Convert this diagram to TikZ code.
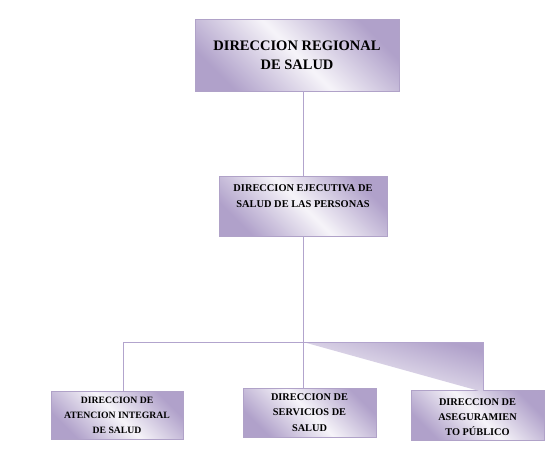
\documentclass[tikz,border=0pt]{standalone}
\usepackage{fontspec}
\setmainfont{Liberation Serif}
\begin{document}
\begin{tikzpicture}[x=1pt,y=-1pt,
  linec/.style={draw=lineclr, line width=0.9pt},
  box/.style={draw=boxclr, line width=0.8pt, shading=axis, left color=shadeclr, right color=shadeclr, middle color=lightclr, shading angle=-45, align=center, font=\bfseries, inner sep=0pt, text=black},
]
\definecolor{lineclr}{RGB}{178,164,205}
\definecolor{boxclr}{RGB}{176,162,200}
\definecolor{shadeclr}{RGB}{176,161,202}
\definecolor{lightclr}{RGB}{246,244,249}
\useasboundingbox (0,0) rectangle (556,453);
% boxes
\node[box, minimum width=204pt, minimum height=72pt, font=\bfseries\fontsize{14.5}{19}\selectfont] (reg) at (297,55) {DIRECCION REGIONAL\\DE SALUD};
\node[box, minimum width=168pt, minimum height=60pt,
  label={[anchor=north, yshift=-5pt, align=center, font=\bfseries\fontsize{10.4}{16}\selectfont]north:DIRECCION EJECUTIVA DE\\SALUD DE LAS PERSONAS}] (eje) at (303,206) {};
\node[box, minimum width=132pt, minimum height=48pt, font=\bfseries\fontsize{9.7}{15}\selectfont] (ate) at (117,415) {DIRECCION DE\\ATENCION INTEGRAL\\DE SALUD};
\node[box, minimum width=133pt, minimum height=49pt, font=\bfseries\fontsize{10.3}{15.5}\selectfont] (ser) at (309.5,412.5) {DIRECCION DE\\SERVICIOS DE\\SALUD};
\node[box, minimum width=133pt, minimum height=50pt, font=\bfseries\fontsize{10.3}{15}\selectfont] (ase) at (477.5,415) {\rule{0pt}{12pt}DIRECCION DE\\ASEGURAMIEN\\TO PÚBLICO};
% junction coordinates
\coordinate (j) at (303,342);
\coordinate (jl) at (123,342);
\coordinate (jr) at (483,342);
\coordinate (jrb) at (483,392);
% shaded triangle
\shade[shading=axis, top color=shadeclr, bottom color=white, shading angle=-16] (j) -- (jr) -- (jrb) -- cycle;
% connectors
\draw[linec] (reg.south -| eje.north) -- (eje.north);
\draw[linec] (eje.south) -- (j);
\draw[linec] (jl) -- (jr);
\draw[linec] (jl) -- (jl |- ate.north);
\draw[linec] (j) -- (j |- ser.north);
\draw[linec] (jr) -- (jr |- ase.north);
\end{tikzpicture}
\end{document}
